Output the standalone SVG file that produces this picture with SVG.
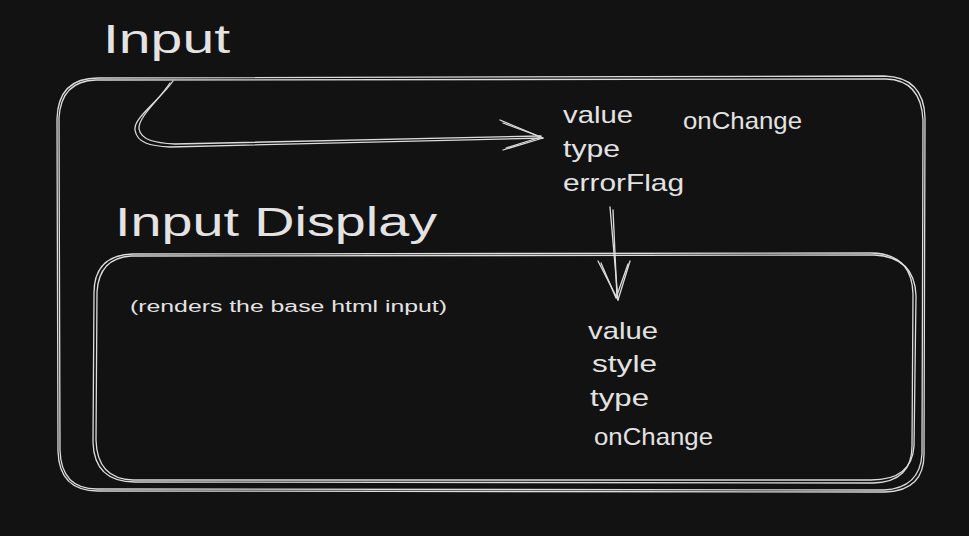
<svg xmlns="http://www.w3.org/2000/svg" width="969" height="536" viewBox="0 0 969 536">
<style>
.bg{fill:#121212}
.s{fill:none;stroke:#dcdcdc;stroke-width:1.3;stroke-linecap:round;stroke-linejoin:round}
.t{fill:#e3e3e3;font-family:"Liberation Sans","DejaVu Sans",sans-serif}
.big{font-size:40px}
.mid{font-size:24px}
.sm{font-size:16px}
</style>
<rect class="bg" x="0" y="0" width="969" height="536"/>
<g id="input-box">
<path class="s" d="M98 78 L884 76 Q924 77 925 118 L924 452 Q925 491 885 492 L98 491 Q59 491 58 451 L57 119 Q58 78 98 78 Z"/>
<path class="s" d="M96 80 L886 79 Q921 80 923 120 L922 454 Q920 488 884 490 L97 489 Q61 489 60 450 L59 118 Q61 81 96 80 Z"/>
<text class="t big" x="103" y="53" textLength="127" lengthAdjust="spacingAndGlyphs">Input</text>
<text class="t mid" x="563" y="123" textLength="70" lengthAdjust="spacingAndGlyphs">value</text>
<text class="t mid" x="563" y="157" textLength="57" lengthAdjust="spacingAndGlyphs">type</text>
<text class="t mid" x="563" y="191" textLength="121" lengthAdjust="spacingAndGlyphs">errorFlag</text>
<text class="t mid" x="683" y="129" textLength="119" lengthAdjust="spacingAndGlyphs">onChange</text>
</g>
<g id="input-display-box">
<path class="s" d="M133 254 L872 253 Q912 254 913 294 L912 444 Q913 482 873 483 L135 482 Q94 482 93 442 L94 293 Q94 255 133 254 Z"/>
<path class="s" d="M131 256 L874 255 Q915 257 916 296 L914 446 Q912 480 871 480 L133 480 Q97 479 96 440 L97 292 Q99 258 131 256 Z"/>
<text class="t big" x="115" y="236" textLength="322" lengthAdjust="spacingAndGlyphs">Input Display</text>
<text class="t sm" x="130" y="312" textLength="317" lengthAdjust="spacingAndGlyphs">(renders the base html input)</text>
<text class="t mid" x="588" y="339" textLength="70" lengthAdjust="spacingAndGlyphs">value</text>
<text class="t mid" x="592" y="372" textLength="65" lengthAdjust="spacingAndGlyphs">style</text>
<text class="t mid" x="590" y="406" textLength="59" lengthAdjust="spacingAndGlyphs">type</text>
<text class="t mid" x="594" y="445" textLength="119" lengthAdjust="spacingAndGlyphs">onChange</text>
</g>
<g id="connectors">
<path class="s" d="M173 81 C160 100 133 118 135 130 C137 143 150 146 170 147 L543 138"/>
<path class="s" d="M170 83 C158 101 138 117 139 129 C141 140 155 143 175 144 L541 136"/>
<path class="s" d="M500 120 L543 138 L503 150"/>
<path class="s" d="M503 123 L541 137 L506 148"/>
<path class="s" d="M610 207 L618 300"/>
<path class="s" d="M613 210 L617 297"/>
<path class="s" d="M598 261 L618 300 L630 261"/>
<path class="s" d="M601 263 L616 298 L628 264"/>
</g>
</svg>
